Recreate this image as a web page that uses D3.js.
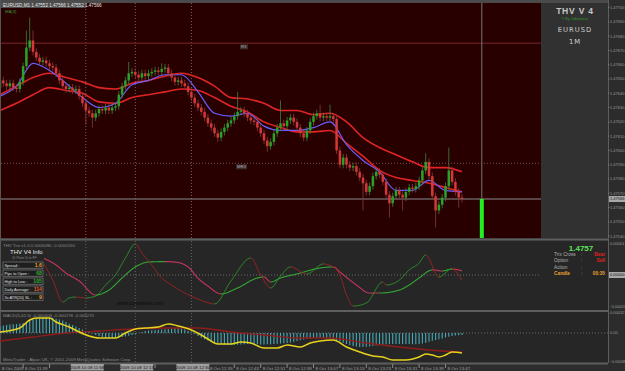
<!DOCTYPE html>
<html>
<head>
<meta charset="utf-8">
<script src="https://cdn.jsdelivr.net/npm/d3@7"></script>
<style>
  html, body { margin: 0; padding: 0; background: #2c2c2c; overflow: hidden; }
  svg { display: block; font-family: "Liberation Sans", Arial, sans-serif; }
</style>
</head>
<body>
<div id="chart"></div>
<script>
// ---- EURUSD M1 candles (close per bar, open = previous close) ----
const firstOpen = 1.47644;
const closes = [
  1.47649, 1.47647, 1.47645, 1.47647, 1.47644, 1.47643, 1.47648, 1.47659, 1.47672, 1.47677,
  1.47669, 1.47665, 1.47662, 1.47663, 1.47661, 1.47659, 1.47658, 1.47654, 1.47649, 1.47645,
  1.47643, 1.47644, 1.47642, 1.47643, 1.47638, 1.47633, 1.47628, 1.47626, 1.47623, 1.47626,
  1.47629, 1.47628, 1.47630, 1.47628, 1.47630, 1.47631, 1.47639, 1.47645, 1.47649, 1.47654,
  1.47655, 1.47653, 1.47651, 1.47654, 1.47652, 1.47654, 1.47655, 1.47656, 1.47655, 1.47657,
  1.47658, 1.47654, 1.47651, 1.47648, 1.47649, 1.47647, 1.47645, 1.47641, 1.47637, 1.47633,
  1.47630, 1.47627, 1.47623, 1.47619, 1.47616, 1.47612, 1.47609, 1.47613, 1.47616, 1.47619,
  1.47621, 1.47624, 1.47627, 1.47628, 1.47626, 1.47623, 1.47621, 1.47620, 1.47616, 1.47612,
  1.47607, 1.47603, 1.47606, 1.47612, 1.47616, 1.47619, 1.47617, 1.47621, 1.47623, 1.47620,
  1.47616, 1.47612, 1.47609, 1.47614, 1.47620, 1.47624, 1.47626, 1.47623, 1.47624, 1.47623,
  1.47624, 1.47622, 1.47600, 1.47590, 1.47595, 1.47590, 1.47588, 1.47589, 1.47585, 1.47581,
  1.47577, 1.47571, 1.47575, 1.47582, 1.47585, 1.47583, 1.47578, 1.47569, 1.47563, 1.47568,
  1.47572, 1.47569, 1.47567, 1.47571, 1.47574, 1.47573, 1.47575, 1.47579, 1.47586, 1.47592,
  1.47582, 1.47568, 1.47558, 1.47562, 1.47567, 1.47575, 1.47586, 1.47578, 1.47571, 1.47567,
  1.47566
];
// long wicks: [bar, high, low]
const spikes = [
  [8, 1.47684, null], [9, 1.47693, null], [10, 1.47684, null], [26, null, 1.47618],
  [28, null, 1.47616], [39, 1.47662, null], [49, 1.47661, null], [66, null, 1.47606],
  [72, 1.47641, null], [81, null, 1.47599], [85, 1.47635, null], [97, 1.47632, null],
  [100, 1.47632, null], [110, null, 1.47558], [118, null, 1.47553], [122, null, 1.47558],
  [129, 1.47598, null], [132, null, 1.47546], [136, 1.47602, null], [139, null, 1.47560]
];

// moving averages, one value every 5 bars
const maStep = 5;
const maBlue  = [1.47638, 1.47645, 1.47661, 1.47656, 1.47647, 1.47637, 1.47630, 1.47633, 1.47646, 1.47649,
                 1.47653, 1.47653, 1.47641, 1.47626, 1.47624, 1.47626, 1.47617, 1.47614, 1.47614, 1.47616,
                 1.47620, 1.47604, 1.47593, 1.47585, 1.47572, 1.47572, 1.47579, 1.47572, 1.47571];
const maUpper = [1.47639, 1.47645, 1.47651, 1.47654, 1.47651, 1.47648, 1.47644, 1.47643, 1.47647, 1.47649,
                 1.47652, 1.47654, 1.47651, 1.47645, 1.47637, 1.47636, 1.47633, 1.47628, 1.47628, 1.47625,
                 1.47626, 1.47620, 1.47609, 1.47602, 1.47597, 1.47592, 1.47588, 1.47588, 1.47585];
const maLower = [1.47628, 1.47633, 1.47639, 1.47644, 1.47642, 1.47640, 1.47634, 1.47633, 1.47637, 1.47639,
                 1.47641, 1.47643, 1.47642, 1.47637, 1.47631, 1.47627, 1.47620, 1.47616, 1.47613, 1.47613,
                 1.47614, 1.47605, 1.47596, 1.47586, 1.47581, 1.47579, 1.47577, 1.47574, 1.47571];

const levelNames = ["R3", "MR3"];
const levelPrices = [1.47675, 1.47591];
const vLineBars = [26, 41, 58];
const vLineLabels = ["2009.10.08 11:58", "2009.10.08 12:13", "2009.10.08 12:30"];
const timerBar = 146;

// THV Trix (values in 1e-6)
const fastBars = [13, 16, 19, 21, 23, 26, 29, 32, 35, 38, 41, 43, 46, 49, 52, 56, 60, 65, 70, 76,
                  79, 82, 85, 88, 93, 98, 101, 103, 105, 107, 111, 116, 117, 121, 124, 127, 129, 133, 135, 136,
                  137, 139, 140];
const fastVals = [6, -2.4, -12.7, -10.8, -10.4, -10.8, -9.9, -4.7, 0, 8, 14.6, 10.4, 4.7, -1.4, -4.7, -8.5, -11.3, -13.6, -2.8, 8,
                  0, -6.1, -0.5, 3.8, 0.5, 5.2, 3.8, 0, -9.4, -14.6, -13.2, -3.3, -4.7, -2.4, 2.4, 5.6, 9.4, -1, 1, 2.4,
                  2.8, 0, -2.4];
const slowBars = [13, 17, 20, 24, 29, 33, 37, 41, 45, 50, 53, 57, 60, 63, 67, 72, 78, 80, 82, 85,
                  90, 97, 101, 103, 108, 112, 115, 121, 124, 127, 131, 134, 137, 140];
const slowVals = [8, 4.7, 0.9, -2.8, -9.4, -7.1, -1.4, 3.8, 6.1, 6.3, 6.1, 3.8, -1.5, -5.2, -8.9, -6.1, -1.4, -0.9, -3.3, -1.4,
                  0.5, 3.3, 3.8, 1.4, -4.7, -8.5, -8.5, -7.1, -4.7, -1.4, 2.4, 1.9, 2.8, 1.9];

// MACD (values in 1e-6)
const macdHist = [
  110, 120, 128, 136, 140, 144, 150, 160, 176, 200, 220, 236, 244, 250, 252, 250, 244, 230, 216, 200,
  176, 150, 128, 104, 80, 56, 32, 12, -8, -30, -50, -64, -76, -80, -80, -76, -70, -64, -56, -44,
  -32, -16, 0, 16, 32, 40, 44, 48, 52, 56, 60, 64, 72, 80, 80, 72, 56, 32, 8, -16,
  -48, -76, -100, -120, -140, -156, -168, -180, -188, -192, -192, -190, -186, -182, -178, -176, -176, -178, -180, -182,
  -182, -180, -178, -174, -170, -168, -164, -158, -150, -140, -128, -116, -104, -94, -86, -80, -78, -78, -80, -84,
  -90, -100, -116, -136, -156, -176, -192, -206, -216, -222, -224, -220, -214, -206, -198, -190, -184, -180, -178, -176,
  -176, -176, -176, -176, -176, -178, -178, -176, -168, -156, -140, -124, -112, -100, -88, -72, -60, -48, -40, -34,
  -30
];
const yellowBars = [0, 6, 9, 11, 15, 17, 21, 24, 27, 30, 35, 38, 41, 44, 48, 51, 54, 58, 61, 63,
                    66, 70, 73, 76, 80, 84, 87, 91, 94, 97, 101, 105, 109, 113, 116, 119, 123, 127, 129, 131,
                    133, 135, 137, 140];
const yellowVals = [16, 80, 208, 240, 240, 176, 96, 16, -48, -80, -80, 0, 64, 80, 96, 144, 112, 48, -32, -96,
                    -176, -176, -144, -160, -240, -240, -192, -224, -160, -128, -112, -224, -304, -368, -384, -432, -432, -384, -336, -352,
                    -384, -352, -304, -320];
const signalBars = [0, 10, 20, 30, 40, 50, 60, 70, 80, 90, 100, 111, 121, 130, 140];
const signalVals = [-128, -64, 0, 32, 64, 80, 80, 16, -32, -80, -80, -160, -224, -272, -304];

const infoLabels = ["Spread :", "Pips to Open :", "High to Low :", "Daily Average :", "3x ATR(20) SL :"];
const infoValues = ["1.6", "68", "105", "114", "9"];
const infoColors = ["#e8a030", "#2fa82f", "#2fa82f", "#e0602a", "#e8a030"];
const statusLabels = ["Trix Cross", "Option", "Action", "Candle"];
const statusValues = ["Bear", "Sell", "", "00:35"];

const startMinute = 11 * 60 + 32;

// ---- layout ----
const W = 625, H = 371;
const chartRight = 541, axisLeft = 608;
const mainTop = 3, mainBottom = 238;
const trixTop = 241, trixBottom = 310;
const macdTop = 312, macdBottom = 363;
const axisFont = 4;

const x = d3.scaleLinear().domain([0, 140]).range([0, 462]);
const y = d3.scaleLinear().domain([1.47566, 1.47700]).range([199, 7.6]);
const yTrix = d3.scaleLinear().domain([-16, 16]).range([309, 241]);
const yMacd = d3.scaleLinear().domain([-480, 352]).range([363, 311]);

const svg = d3.select("#chart").append("svg").attr("width", W).attr("height", H);
const defs = svg.append("defs");
defs.append("clipPath").attr("id", "clipMain").append("rect")
  .attr("x", 1).attr("y", mainTop).attr("width", chartRight - 1).attr("height", mainBottom - mainTop);

svg.append("rect").attr("width", W).attr("height", H).attr("fill", "#2c2c2c");
svg.append("rect").attr("x", 0).attr("y", 0).attr("width", axisLeft).attr("height", 3).attr("fill", "#4a4a4a");
svg.append("rect").attr("x", 1).attr("y", mainTop).attr("width", chartRight - 1).attr("height", mainBottom - mainTop).attr("fill", "#280000");
svg.append("rect").attr("x", chartRight).attr("y", mainTop).attr("width", axisLeft - chartRight).attr("height", mainBottom - mainTop).attr("fill", "#313131");
[[trixTop, trixBottom], [macdTop, macdBottom]].forEach(([t, b]) => {
  svg.append("rect").attr("x", 1).attr("y", t).attr("width", axisLeft - 1).attr("height", b - t).attr("fill", "#262626");
});
svg.append("rect").attr("x", 0).attr("y", 0).attr("width", 1).attr("height", macdBottom).attr("fill", "#555");
[239.5, 311, 363.5].forEach(v => {
  svg.append("line").attr("x1", 0).attr("x2", axisLeft).attr("y1", v).attr("y2", v)
    .attr("stroke", "#5e5e5e").attr("stroke-width", 2);
});
svg.append("line").attr("x1", axisLeft + 0.5).attr("x2", axisLeft + 0.5).attr("y1", 0).attr("y2", macdBottom)
  .attr("stroke", "#5e5e5e");

// ---- main panel ----
const main = svg.append("g").attr("clip-path", "url(#clipMain)");

// vertical dotted lines
vLineBars.forEach(b => {
  main.append("line").attr("x1", x(b)).attr("x2", x(b)).attr("y1", mainTop).attr("y2", mainBottom)
    .attr("stroke", "#7a6666").attr("stroke-dasharray", "1,2");
  [[trixTop, trixBottom], [macdTop + 1, macdBottom]].forEach(([t, bt]) => {
    svg.append("line").attr("x1", x(b)).attr("x2", x(b)).attr("y1", t).attr("y2", bt)
      .attr("stroke", "#666").attr("stroke-dasharray", "1,2");
  });
});

// levels
levelPrices.forEach((p, k) => {
  main.append("line").attr("x1", 1).attr("x2", chartRight).attr("y1", y(p)).attr("y2", y(p))
    .attr("stroke", k === 0 ? "#5e1a1a" : "#6e5050")
    .attr("stroke-width", k === 0 ? 1.5 : 1)
    .attr("stroke-dasharray", k === 0 ? null : "1,2");
  const lx = k === 0 ? 241 : 237;
  main.append("rect").attr("x", lx - 1).attr("y", y(p) + 1).attr("width", k === 0 ? 8 : 11).attr("height", 5)
    .attr("fill", "#3c2c2c");
  main.append("text").attr("x", lx).attr("y", y(p) + 5).attr("font-size", 4.2).attr("fill", "#a8a8a8")
    .text(levelNames[k]);
});

// bid line
const lastClose = closes[closes.length - 1];
main.append("line").attr("x1", 1).attr("x2", chartRight).attr("y1", y(lastClose)).attr("y2", y(lastClose))
  .attr("stroke", "#8a8a8a").attr("stroke-width", 1);

// timer line + bar
main.append("line").attr("x1", x(timerBar)).attr("x2", x(timerBar)).attr("y1", mainTop).attr("y2", y(lastClose))
  .attr("stroke", "#777");
main.append("rect").attr("x", x(timerBar) - 2).attr("y", y(lastClose)).attr("width", 4)
  .attr("height", mainBottom - y(lastClose)).attr("fill", "#22f022");

// MA bands
const maLine = d3.line().x((d, k) => x(k * maStep)).y(d => y(d)).curve(d3.curveMonotoneX);
[[maUpper, "#e02424", 1.6], [maLower, "#e02424", 1.6], [maBlue, "#6a5cff", 1.2]].forEach(([arr, col, w]) => {
  main.append("path").attr("d", maLine(arr)).attr("fill", "none").attr("stroke", col).attr("stroke-width", w);
});

// candles
const wickPad = 0.000025;
const candles = closes.map((c, i) => {
  const o = i === 0 ? firstOpen : closes[i - 1];
  const s = spikes.find(d => d[0] === i);
  return {
    i, o, c,
    h: s && s[1] != null ? s[1] : Math.max(o, c) + wickPad,
    l: s && s[2] != null ? s[2] : Math.min(o, c) - wickPad
  };
});
const upCol = "#27a327", dnCol = "#d43838";
main.selectAll(".wick").data(candles).enter().append("line")
  .attr("x1", d => x(d.i)).attr("x2", d => x(d.i))
  .attr("y1", d => y(d.h)).attr("y2", d => y(d.l))
  .attr("stroke", d => d.c >= d.o ? "#3f7f3f" : "#8a3a3a").attr("stroke-width", 0.8);
main.selectAll(".body").data(candles).enter().append("rect")
  .attr("x", d => x(d.i) - 1.25).attr("width", 2.5)
  .attr("y", d => y(Math.max(d.o, d.c)))
  .attr("height", d => Math.max(1, Math.abs(y(d.o) - y(d.c))))
  .attr("fill", d => d.c >= d.o ? upCol : dnCol);

// header
svg.append("rect").attr("x", 1).attr("y", 1).attr("width", 85).attr("height", 7).attr("fill", "#4c4c4c");
svg.append("text").attr("x", 3).attr("y", 6.5).attr("font-size", 4.6).attr("fill", "#e8e8e8")
  .text("EURUSD,M1  1.47552 1.47566 1.47552 1.47566");
svg.append("text").attr("x", 5).attr("y", 13).attr("font-size", 4.2).attr("fill", "#3a9a3a").text("MA(3)");

// right info panel
const cx = 575;
svg.append("text").attr("x", cx).attr("y", 14).attr("text-anchor", "middle").attr("font-size", 8.5)
  .attr("font-weight", "bold").attr("letter-spacing", 0.8).attr("fill", "#c8c8c8").text("THV V 4");
svg.append("text").attr("x", cx).attr("y", 20).attr("text-anchor", "middle").attr("font-size", 3.6)
  .attr("fill", "#2e9a2e").text("® By Cobraforex");
svg.append("text").attr("x", cx).attr("y", 32).attr("text-anchor", "middle").attr("font-size", 6.8)
  .attr("letter-spacing", 1).attr("fill", "#cfcfcf").attr("font-family", "DejaVu Sans").text("EURUSD");
svg.append("text").attr("x", cx).attr("y", 43.5).attr("text-anchor", "middle").attr("font-size", 6.8)
  .attr("letter-spacing", 1).attr("fill", "#cfcfcf").attr("font-family", "DejaVu Sans").text("1M");

// price axis
const priceTicks = d3.range(0, 17).map(k => 1.4754 + k * 0.0001);
priceTicks.forEach(p => {
  svg.append("line").attr("x1", axisLeft).attr("x2", axisLeft + 1.5).attr("y1", y(p)).attr("y2", y(p)).attr("stroke", "#777");
  svg.append("text").attr("x", axisLeft + 2).attr("y", y(p) + 1.4).attr("font-size", axisFont).attr("fill", "#9a9a9a")
    .text(d3.format(".5f")(p));
});
svg.append("rect").attr("x", axisLeft + 1).attr("y", y(lastClose) - 3).attr("width", W - axisLeft).attr("height", 6).attr("fill", "#a8a8a8");
svg.append("text").attr("x", axisLeft + 2).attr("y", y(lastClose) + 1.4).attr("font-size", axisFont).attr("fill", "#111")
  .text(d3.format(".5f")(lastClose));

// ---- Trix panel ----
svg.append("line").attr("x1", 1).attr("x2", chartRight).attr("y1", yTrix(0)).attr("y2", yTrix(0))
  .attr("stroke", "#6a6a6a").attr("stroke-dasharray", "1,2");

function drawColoredLine(bars, vals, yScale, up, dn, w) {
  const pts = bars.map((b, k) => [x(b), yScale(vals[k])]);
  const tmp = svg.append("path").attr("d", d3.line().curve(d3.curveMonotoneX)(pts)).attr("fill", "none");
  const node = tmp.node(), len = node.getTotalLength();
  const samples = d3.range(0, len, 0.6).concat([len]).map(l => node.getPointAtLength(l));
  tmp.remove();
  let run = [samples[0]], rising = null;
  const flush = () => {
    if (run.length > 1) {
      svg.append("polyline").attr("points", run.map(p => p.x + "," + p.y).join(" "))
        .attr("fill", "none").attr("stroke", rising ? up : dn).attr("stroke-width", w);
    }
  };
  for (let k = 1; k < samples.length; k++) {
    const dy = samples[k].y - samples[k - 1].y;
    const r = dy < -1e-6 ? true : (dy > 1e-6 ? false : (rising === null ? false : rising));
    if (rising !== null && r !== rising) { flush(); run = [samples[k - 1]]; }
    rising = r;
    run.push(samples[k]);
  }
  flush();
}
drawColoredLine(slowBars, slowVals, yTrix, "#35a535", "#c8345c", 1.1);
drawColoredLine(fastBars, fastVals, yTrix, "#2c9a2c", "#a82424", 1);

svg.append("text").attr("x", 3).attr("y", 246.5).attr("font-size", 4.4).attr("fill", "#8a8a8a")
  .text("THV Trix v1.0 0.0000090 -0.0000150");

// info box
const info = svg.append("g");
info.append("rect").attr("x", 2).attr("y", 248).attr("width", 42).attr("height", 54).attr("fill", "#262626");
info.append("text").attr("x", 10).attr("y", 254).attr("font-size", 6).attr("fill", "#e6e6e6").text("THV  V4  Info");
info.append("text").attr("x", 12).attr("y", 258.5).attr("font-size", 3.4).attr("fill", "#8a8a8a").text("@ Peter D in FF");
infoLabels.forEach((lab, k) => {
  const ry = 262 + k * 8;
  info.append("rect").attr("x", 3).attr("y", ry).attr("width", 40).attr("height", 6.2)
    .attr("fill", "#1e1e1e").attr("stroke", "#8a8a8a").attr("stroke-width", 0.6);
  info.append("text").attr("x", 4.5).attr("y", ry + 4.5).attr("font-size", 3.9).attr("fill", "#e0e0e0").text(lab);
  info.append("text").attr("x", 42).attr("y", ry + 5).attr("text-anchor", "end").attr("font-size", 5.2)
    .attr("font-weight", "bold").attr("fill", infoColors[k]).text(infoValues[k]);
});

svg.append("text").attr("x", 117).attr("y", 305).attr("font-size", 5).attr("fill", "#0c0c0c").text("www.cobraforex.com");

// status texts
svg.append("text").attr("x", 581).attr("y", 250.5).attr("text-anchor", "middle").attr("font-size", 8)
  .attr("font-weight", "bold").attr("fill", "#5ee05e").text(d3.format(".4f")(lastClose));
statusLabels.forEach((lab, k) => {
  const ry = 256 + k * 6.3;
  const col = k === 3 ? "#e8a030" : "#b0b0b0";
  svg.append("text").attr("x", 554).attr("y", ry).attr("font-size", 4.8).attr("fill", col)
    .attr("font-weight", k === 3 ? "bold" : null).text(lab);
  svg.append("text").attr("x", 581).attr("y", ry).attr("font-size", 4.8).attr("fill", col).text(":");
  svg.append("text").attr("x", 605).attr("y", ry).attr("text-anchor", "end").attr("font-size", 4.8)
    .attr("font-weight", "bold").attr("fill", k === 3 ? "#e8a030" : "#e02020").text(statusValues[k]);
});

[15, 0, -15].forEach(v => {
  if (v === 0) {
    svg.append("rect").attr("x", axisLeft + 1).attr("y", yTrix(v) - 3).attr("width", W - axisLeft).attr("height", 6).attr("fill", "#a8a8a8");
  }
  svg.append("text").attr("x", axisLeft + 2).attr("y", yTrix(v) + 1.4).attr("font-size", v < 0 ? 3.6 : axisFont)
    .attr("fill", v === 0 ? "#111" : "#9a9a9a").text(d3.format(".5f")(v * 1e-6));
});

// ---- MACD panel ----
svg.append("line").attr("x1", 1).attr("x2", axisLeft).attr("y1", yMacd(0)).attr("y2", yMacd(0))
  .attr("stroke", "#6a6a6a").attr("stroke-dasharray", "1,2");
svg.selectAll(".hist").data(macdHist).enter().append("line")
  .attr("x1", (d, i) => x(i)).attr("x2", (d, i) => x(i))
  .attr("y1", yMacd(0)).attr("y2", d => yMacd(d))
  .attr("stroke", "#45a9b6").attr("stroke-width", 1.1);
const mLine = (bars) => d3.line().x((d, k) => x(bars[k])).y(d => yMacd(d)).curve(d3.curveMonotoneX);
svg.append("path").attr("d", mLine(signalBars)(signalVals)).attr("fill", "none")
  .attr("stroke", "#8e1c1c").attr("stroke-width", 1.3);
svg.append("path").attr("d", mLine(yellowBars)(yellowVals)).attr("fill", "none")
  .attr("stroke", "#e6d21e").attr("stroke-width", 1.5);

svg.append("text").attr("x", 3).attr("y", 317).attr("font-size", 4.4).attr("fill", "#8a8a8a")
  .text("MACD(5,42,5) -0.000009 -0.000278 -0.000270");
svg.append("text").attr("x", 3).attr("y", 361).attr("font-size", 4.4).attr("fill", "#8a8a8a")
  .text("MetaTrader - Alpari UK, © 2001-2009 MetaQuotes Software Corp.");
[320, 0, -480].forEach(v => {
  svg.append("text").attr("x", axisLeft + 2).attr("y", yMacd(v) + (v === -480 ? -0.5 : 1.4))
    .attr("font-size", v < 0 ? 3.6 : axisFont)
    .attr("fill", "#9a9a9a").text(v === 0 ? "0.00" : d3.format(".5f")(v * 1e-6));
});

// ---- time axis ----
const fmtTime = b => {
  const m = startMinute + b;
  return "8 Oct " + Math.floor(m / 60) + ":" + String(m % 60).padStart(2, "0");
};
const boxL = b => x(b) - 15, boxR = b => x(b) + 18;
svg.append("text").attr("x", 2).attr("y", 369.5).attr("font-size", 4.4).attr("fill", "#a0a0a0").text("8 Oct 2009");
d3.range(7, 141, 8).forEach(b => {
  const lx0 = x(b) + 2, lx1 = x(b) + 26;
  const hidden = vLineBars.some(v => lx0 < boxR(v) && lx1 > boxL(v));
  svg.append("line").attr("x1", x(b)).attr("x2", x(b)).attr("y1", 364).attr("y2", 368).attr("stroke", "#888");
  if (!hidden) {
    svg.append("text").attr("x", lx0).attr("y", 369.5).attr("font-size", 4.4).attr("fill", "#a0a0a0").text(fmtTime(b));
  }
});
vLineBars.forEach((b, k) => {
  svg.append("rect").attr("x", boxL(b)).attr("y", 364).attr("width", boxR(b) - boxL(b)).attr("height", 6.5).attr("fill", "#a0a0a0");
  svg.append("text").attr("x", x(b) + 1.5).attr("y", 369).attr("text-anchor", "middle").attr("font-size", 4.4)
    .attr("fill", "#111").text(vLineLabels[k]);
});
</script>
</body>
</html>
